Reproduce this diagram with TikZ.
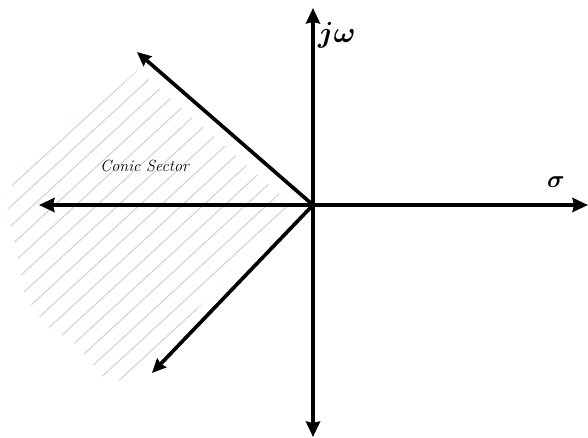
\documentclass[tikz,border=0pt]{standalone}
\usepackage{bm}
\usetikzlibrary{arrows.meta,calc}

\definecolor{hatchblue}{RGB}{188,204,224}
\tikzset{
  axis/.style={line width=3.4pt,arrows={Stealth[length=11pt,width=10pt,inset=1pt]-Stealth[length=11pt,width=10pt,inset=1pt]}},
  ray/.style={line width=2.6pt,-{Stealth[length=10pt,width=9pt,inset=1pt]}},
  hatch/.style={hatchblue,line width=0.6pt}
}

\begin{document}
\begin{tikzpicture}
  \useasboundingbox (-7.825,-5.825) rectangle (6.875,5.125);
  \coordinate (O) at (0,0);
  \coordinate (top) at (0,4.925);
  \coordinate (bottom) at (0,-5.8);
  \coordinate (left) at (-6.85,0);
  \coordinate (right) at (6.875,0);
  \coordinate (upper) at (-4.4,3.825);
  \coordinate (lower) at (-4.025,-4.2);
  \begin{scope}
    \clip (-4.375,3.375) -- (-7.5,0.6) -- (-7.625,-0.125) -- (-7.45,-1.0)
      -- (-7.2,-2.25) -- (-6.7,-3.0) -- (-5.95,-3.45) -- (-5.125,-4.45)
      -- (-4.45,-4.3) -- (-0.525,0) -- cycle;
    \foreach \k in {0,...,15}
      \draw[hatch] ($(-7.45,0.55)+\k*(0.243,-0.265)+(-6.3,-5.8)$) -- ++(12.6,11.6);
  \end{scope}
  \draw[axis] (bottom) -- (top);
  \draw[axis] (left) -- (right);
  \draw[ray] (O) -- (upper);
  \draw[ray] (O) -- (lower);
  \node (jw) at (0.6,4.25) {\huge $\bm{j\omega}$};
  \node (sigma) at (6.075,0.575) {\LARGE $\bm{\sigma}$};
  \node (sector) at (-4.2,0.975) {\fontsize{11.5}{14}\selectfont\textit{Conic Sector}};
\end{tikzpicture}
\end{document}
